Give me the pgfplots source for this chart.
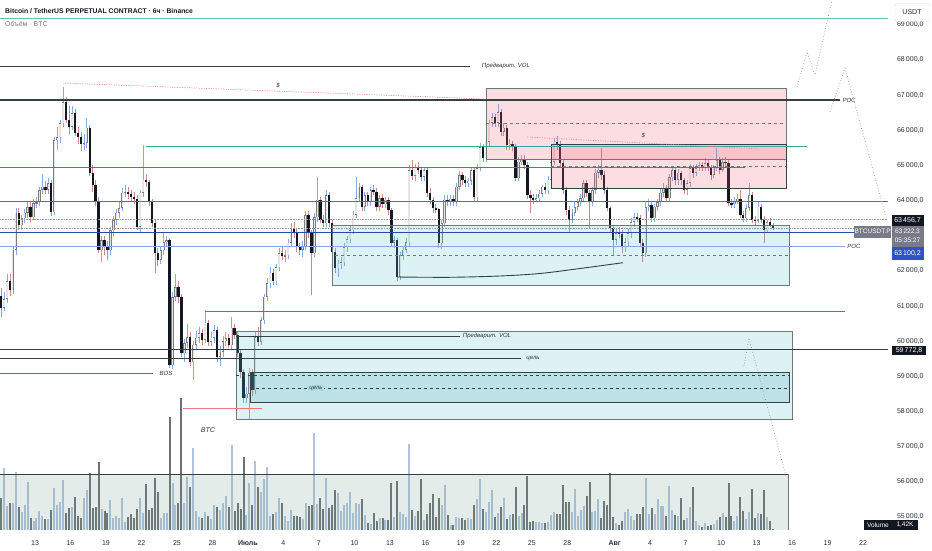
\documentclass[border=0pt]{standalone}
\usepackage{pgfplots}
\pgfplotsset{compat=1.18}
\usepackage{pgfplotstable}
\usepackage{fontspec}
\setmainfont{Liberation Sans}
\definecolor{bearbody}{RGB}{19,23,34}
\definecolor{bullfill}{RGB}{230,230,230}
\definecolor{bulledge}{RGB}{125,125,125}
\definecolor{wickbull}{RGB}{135,170,230}
\definecolor{wickbear}{RGB}{205,135,142}
\definecolor{volbull}{RGB}{178,195,222}
\definecolor{volbear}{RGB}{108,113,115}
\definecolor{darkline}{RGB}{55,65,65}
\definecolor{midline}{RGB}{100,115,112}
\definecolor{tealA}{RGB}{90,200,180}
\definecolor{tealB}{RGB}{50,170,155}
\definecolor{tealC}{RGB}{40,150,135}
\definecolor{redl}{RGB}{232,60,70}
\definecolor{bluel}{RGB}{40,75,170}
\definecolor{lblue}{RGB}{140,165,215}
\definecolor{pinkdot}{RGB}{225,130,140}
\definecolor{projc}{RGB}{150,150,150}
\definecolor{pinkbox}{RGB}{242,90,110}
\definecolor{cyanbox}{RGB}{80,190,205}
\definecolor{cyanin}{RGB}{60,160,175}
\definecolor{volpane}{RGB}{120,160,150}
\definecolor{boxborder}{RGB}{110,120,120}
\definecolor{labelc}{RGB}{50,54,62}
\definecolor{axislabel}{RGB}{40,44,52}
\definecolor{grayl}{RGB}{120,123,134}
\definecolor{bluebox}{RGB}{47,82,196}

\pgfplotstableread{
o h l c v
61300 61500 60700 60950 32
60950 61400 60850 61200 62
61200 61900 61100 61700 24
61700 61900 61300 61450 27
61450 62700 61350 62600 27
62600 63800 62450 63650 58
63650 63800 63150 63300 23
63300 63600 63150 63500 18
63500 63750 63350 63650 25
63650 64000 63500 63820 48
63820 63950 63400 63530 12
63530 64050 63450 63930 9
63930 64100 63800 63960 12
63960 64400 63850 64300 19
64300 64750 64200 64400 14
64400 64550 64200 64300 11
64300 64650 64200 64500 11
64500 64600 63550 63670 20
63670 65800 63600 65720 42
65720 66100 65450 65800 25
65800 66300 65650 66200 28
66200 67230 66100 66800 50
66800 66950 66200 66300 17
66300 66700 65900 66100 22
66100 66700 66000 66490 23
66490 66600 65850 65920 33
65920 66100 65600 65800 14
65800 65950 65400 65600 12
65600 65900 65450 65640 32
65640 66350 65500 66070 40
66070 66150 64700 64790 57
64790 65000 64250 64440 22
64440 64600 63850 63960 23
63960 64100 62500 62590 68
62590 63000 62250 62880 21
62880 63000 62450 62700 19
62700 62850 62300 62590 17
62590 63250 62450 63160 30
63160 63550 63000 63450 12
63450 63750 63300 63650 14
63650 63950 63500 63790 12
63790 64350 63700 64220 32
64220 64450 64100 64250 8
64250 64400 64050 64200 13
64200 64300 63950 64100 16
64100 64250 63900 64050 12
64050 64150 63150 63250 21
63250 64300 63100 64220 32
64220 65580 64100 64590 17
64590 64750 64400 64530 46
64530 64600 63850 63960 20
63960 64050 63250 63360 22
63360 63450 61940 62500 52
62500 62650 62150 62310 38
62310 62700 62200 62590 12
62590 63100 62450 62820 17
62820 63000 62700 62880 17
62880 62950 59250 59320 113
59320 61400 59200 61260 47
61260 61900 61150 61540 25
61540 61700 61100 61260 27
61260 61350 59550 59660 132
59660 60050 59400 59950 27
59950 60500 59800 60120 53
60120 60250 59300 59400 43
59400 60000 58900 59900 82
59900 60300 59750 60100 19
60100 60400 59950 60230 13
60230 60350 59900 60040 12
60040 60890 59950 60520 18
60520 60600 59850 59980 14
59980 60250 59850 60100 11
60100 60450 59950 60320 25
60320 60400 59400 59550 23
59550 59850 59300 59700 20
59700 60150 59550 60000 27
60000 60250 59850 60090 34
60090 60200 59800 59890 23
59890 60700 59750 60380 85
60380 60500 60050 60170 19
60170 60250 59550 59660 27
59660 59750 58950 59120 21
59120 59200 58240 58380 73
58380 58700 58250 58500 15
58500 59250 57760 59100 47
59100 59200 58450 58610 25
58610 60250 58500 60120 69
60120 60400 59850 59980 43
59980 60700 59900 60600 38
60600 61350 60500 61260 51
61260 61800 61150 61650 63
61650 62100 61500 61950 14
61950 62050 61600 61700 16
61700 62200 61600 62100 18
62100 62650 62000 62500 32
62500 62700 62300 62420 27
62420 62600 62250 62450 14
62450 62900 62350 62800 9
62800 63350 62700 63220 20
63220 63400 62950 63080 14
63080 63200 62550 62680 14
62680 62800 62450 62600 13
62600 62850 62400 62700 11
62700 63700 62600 63590 27
63590 63700 62950 63080 24
63080 63150 61310 62500 25
62500 63650 62400 63530 97
63530 64670 63400 64020 26
64020 64100 63350 63450 32
63450 63600 63250 63360 21
63360 64300 63250 64160 52
64160 64250 63250 63360 22
63360 63450 62450 62540 25
62540 62650 61950 62080 40
62080 62300 61830 62200 37
62200 62400 62050 62250 19
62250 62800 62150 62680 25
62680 63000 62550 62900 27
62900 63300 62800 63160 38
63160 63700 63050 63600 17
63600 64670 63500 64070 27
64070 64500 63950 64390 26
64390 64450 63700 63820 31
63820 64250 63700 64160 15
64160 64250 63850 63950 7
63950 64400 63850 64300 6
64300 64450 64150 64250 17
64250 64350 63700 63820 9
63820 64150 63700 64070 12
64070 64200 63800 63900 12
63900 64100 63800 64020 10
64020 64100 63600 63730 10
63730 63800 62700 62800 47
62800 63000 62650 62880 13
62880 62950 61700 61830 49
61830 62550 61750 62450 18
62450 62700 62300 62600 16
62600 62950 62500 62820 13
62820 65000 62700 64870 86
64870 65150 64600 64700 20
64700 65050 64550 64950 14
64950 65100 64750 64870 19
64870 64950 64550 64680 51
64680 64950 64550 64870 10
64870 64950 64100 64220 16
64220 64350 63900 64020 27
64020 64100 63650 63790 36
63790 63900 63650 63750 13
63750 63800 62650 62790 32
62790 63450 62620 63360 25
63360 64150 63250 64020 45
64020 64150 63850 63960 15
63960 64150 63850 64050 5
64050 64150 63850 63960 5
63960 64500 63850 64390 13
64390 64850 64300 64730 12
64730 64800 64450 64590 12
64590 64700 64400 64500 10
64500 64650 64400 64560 12
64560 64950 64450 64870 11
64870 64950 64000 64100 25
64100 65050 64000 64930 31
64930 65650 64850 65520 51
65520 65600 65100 65210 21
65210 65750 65100 65670 18
65670 66300 65550 66210 28
66210 66500 66100 66380 40
66380 66450 66100 66210 13
66210 66750 66100 66520 17
66520 66600 65850 65950 23
65950 66200 65850 66070 32
66070 66150 65450 65580 11
65580 65750 65450 65620 15
65620 65700 65400 65520 16
65520 65600 64550 64640 43
64640 65250 64550 65100 14
65100 65300 65000 65180 17
65180 65300 64900 65010 25
65010 65100 64050 64160 54
64160 64300 63660 64070 8
64070 64200 63900 64020 9
64020 64200 63950 64070 8
64070 64300 63950 64200 8
64200 64450 64100 64390 7
64390 64500 64200 64300 7
64300 64700 64200 64590 8
64590 65200 64500 65100 15
65100 65750 65000 65670 18
65670 65850 65450 65600 16
65600 65700 64950 65070 16
65070 65150 64200 64300 45
64300 64400 63600 63730 28
63730 63850 63080 63450 28
63450 63750 63350 63650 18
63650 63950 63550 63820 41
63820 64050 63700 63950 14
63950 64200 63850 64070 20
64070 64600 63950 64500 24
64500 64600 64100 64220 34
64220 64300 63220 63960 48
63960 64400 63850 64300 18
64300 64900 64200 64790 19
64790 65000 64650 64880 31
64880 65500 64600 64730 12
64730 64850 64200 64300 29
64300 64400 63700 63790 25
63790 63850 63100 63220 57
63220 63300 62450 62880 13
62880 63200 62750 63080 7
63080 63250 62950 63050 5
63050 63150 62500 62680 9
62680 62950 62550 62820 18
62820 63200 62700 63080 21
63080 63500 62950 63390 14
63390 63650 63250 63530 10
63530 63650 63400 63500 16
63500 63600 62700 62790 16
62790 62900 62250 62500 23
62500 63950 62400 63820 52
63820 64050 63700 63870 16
63870 63950 63400 63500 22
63500 63900 63400 63820 16
63820 64050 63700 63960 31
63960 64350 63850 64220 24
64220 64500 64100 64360 24
64360 64450 63950 64070 14
64070 64750 63950 64670 44
64670 64950 64550 64870 20
64870 64950 64450 64590 15
64590 64900 64450 64800 14
64800 64850 64450 64590 32
64590 64650 64200 64300 10
64300 64600 64150 64500 12
64500 65050 64400 64930 23
64930 65000 64650 64800 43
64800 65050 64700 64930 9
64930 65100 64850 65010 5
65010 65100 64850 64930 3
64930 65200 64850 65070 7
65070 65150 64850 64930 4
64930 65000 64600 64730 5
64730 65000 64650 64930 6
64930 65500 64850 65150 10
65150 65250 64750 64870 13
64870 65200 64800 65100 17
65100 65250 64950 65070 13
65070 65150 63850 63930 47
63930 64050 63800 63900 14
63900 64100 63800 63980 9
63980 64200 63900 64050 14
64050 64300 63500 63590 33
63590 63700 63400 63500 19
63500 63900 63400 63790 11
63790 64500 63700 64160 18
64160 64250 63350 63450 41
63450 63550 63300 63420 12
63420 63950 63350 63820 17
63820 63900 63350 63450 16
63450 63550 62790 63160 40
63160 63450 63100 63390 13
63390 63500 63250 63300 9
63300 63350 63150 63222 1
}\candles

\pgfplotsset{
  cbar/.style 2 args={only marks, mark=*, mark size=0pt,
    mark options={draw=none, fill=none}, forget plot,
    restrict y to domain=10000:100000,
    error bars/.cd, y dir=#1, y explicit, error mark=none,
    error bar style={#2}},
}
\tikzset{lbl/.style={font=\fontsize{6}{7}\selectfont\itshape, text=labelc, inner sep=1pt}}

\begin{document}
\begin{tikzpicture}[x=1pt,y=1pt]
\useasboundingbox (0,0) rectangle (932,550);
\begin{axis}[
  at={(0pt,20pt)}, anchor=south west,
  width=888pt, height=530pt, scale only axis,
  xmin=-2.959, xmax=72.105, ymin=54628.5, ymax=69707,
  clip=false,
  axis line style={draw=none},
  major tick length=0pt,
  tick style={draw=none},
  yticklabel pos=right,
  scaled y ticks=false,
  ytick={55000,56000,57000,58000,59000,60000,61000,62000,64000,65000,66000,67000,68000,69000},
  xtick={0,3,6,9,12,15,18,21,24,27,30,33,36,39,42,45,49,52,55,58,61,64,67,70},
  xticklabels={13,16,19,22,25,28,{\bfseries Июль},4,7,10,13,16,19,22,25,28,{\bfseries Авг},4,7,10,13,16,19,22},
  tick label style={font=\fontsize{7}{8}\selectfont, text=axislabel},
  yticklabel style={anchor=west, xshift=5.5pt,
    /pgf/number format/fixed, /pgf/number format/fixed zerofill,
    /pgf/number format/precision=1, /pgf/number format/use comma,
    /pgf/number format/1000 sep={\,}, /pgf/number format/assume math mode=true},
  xticklabel style={yshift=-7pt},
]
% ---- volume ----
\addplot[cbar={plus}{line width=2.0pt, draw=volbull}] table[x expr=\coordindex/4-2.875,
  y expr={\thisrow{c}>=\thisrow{o} ? 54628.5 : 0}, y error expr={\thisrow{v}*28.45}] {\candles};
\addplot[cbar={plus}{line width=2.0pt, draw=volbear}] table[x expr=\coordindex/4-2.875,
  y expr={\thisrow{c}<\thisrow{o} ? 54628.5 : 0}, y error expr={\thisrow{v}*28.45}] {\candles};
% ---- wicks ----
\addplot[cbar={plus}{line width=0.55pt, draw=wickbull}] table[x expr=\coordindex/4-2.875,
  y expr={\thisrow{c}>=\thisrow{o} ? \thisrow{l} : 0}, y error expr={\thisrow{h}-\thisrow{l}}] {\candles};
\addplot[cbar={plus}{line width=0.55pt, draw=wickbear}] table[x expr=\coordindex/4-2.875,
  y expr={\thisrow{c}<\thisrow{o} ? \thisrow{l} : 0}, y error expr={\thisrow{h}-\thisrow{l}}] {\candles};
% ---- bodies ----
\addplot[cbar={both}{line width=2.3pt, draw=bearbody}] table[x expr=\coordindex/4-2.875,
  y expr={\thisrow{c}<\thisrow{o} ? (\thisrow{o}+\thisrow{c})/2 : 0},
  y error expr={max(abs(\thisrow{c}-\thisrow{o})/2,14)}] {\candles};
\addplot[cbar={both}{line width=2.3pt, draw=bulledge}] table[x expr=\coordindex/4-2.875,
  y expr={\thisrow{c}>=\thisrow{o} ? (\thisrow{o}+\thisrow{c})/2 : 0},
  y error expr={max(abs(\thisrow{c}-\thisrow{o})/2,14)}] {\candles};
\addplot[cbar={both}{line width=1.3pt, draw=bullfill}] table[x expr=\coordindex/4-2.875,
  y expr={\thisrow{c}>=\thisrow{o} ? (\thisrow{o}+\thisrow{c})/2 : 0},
  y error expr={max(abs(\thisrow{c}-\thisrow{o})/2-16,0)}] {\candles};

% ---- boxes ----
\fill[volpane, fill opacity=0.2] (-2.959,56222) rectangle (63.65,54628.5);
\draw[darkline, line width=0.8pt] (-2.959,56222) -- (63.65,56222);
\draw[boxborder, line width=0.6pt] (63.65,56222) -- (63.65,54628.5);
% pink zones
\fill[pinkbox, fill opacity=0.2] (38.12,67203) rectangle (63.48,65183);
\fill[pinkbox, fill opacity=0.2] (43.62,65610) rectangle (63.48,64358);
\draw[boxborder, line width=0.6pt] (38.12,67203) rectangle (63.48,65183);
\draw[darkline, line width=0.6pt] (43.62,65610) rectangle (63.48,64358);
\draw[boxborder, dashed, line width=0.5pt] (38.12,66208) -- (63.48,66208);
\draw[boxborder, dashed, line width=0.5pt] (43.62,64984) -- (63.48,64984);
% cyan zones
\fill[cyanbox, fill opacity=0.2] (25.11,63306) rectangle (63.74,61599);
\draw[boxborder, line width=0.6pt] (25.11,63306) rectangle (63.74,61599);
\draw[boxborder, dashed, line width=0.5pt] (25.36,62452) -- (63.74,62452);
\fill[cyanbox, fill opacity=0.2] (16.99,60290) rectangle (63.99,57786);
\draw[boxborder, line width=0.6pt] (16.99,60290) rectangle (63.99,57786);
\fill[cyanin, fill opacity=0.2] (18.17,59109) rectangle (63.74,58256);
\draw[darkline, line width=0.6pt] (18.17,59109) rectangle (63.74,58256);
\draw[darkline, dashed, line width=0.5pt] (16.99,59038) -- (63.74,59038);
\draw[darkline, dashed, line width=0.5pt] (18.17,58668) -- (63.74,58668);

% ---- horizontal levels ----
\draw[tealA, line width=0.8pt] (-2.959,69195) -- (72.105,69195);
\draw[darkline, line width=0.7pt] (-2.959,67829) -- (36.77,67829);
\draw[darkline, line width=1.1pt] (-2.959,66862) -- (68.05,66862);
\draw[tealB, line width=0.8pt] (9.38,65553) -- (65.26,65553);
\draw[redl, line width=0.9pt] (-2.959,64956) -- (60.02,64956);
\draw[midline, line width=0.8pt] (-2.959,63988) -- (72.105,63988);
\draw[projc, densely dotted, line width=0.6pt] (-2.959,63456.7) -- (72.105,63456.7);
\draw[projc, densely dotted, line width=0.6pt] (-2.959,63222.3) -- (72.105,63222.3);
\draw[bluel, line width=1.1pt] (-2.959,63100.2) -- (72.105,63100.2);
\draw[lblue, line width=0.8pt] (-2.959,62708) -- (68.47,62708);
\draw[tealC, line width=0.9pt] (14.37,60859) -- (68.47,60859);
\draw[darkline, line width=0.6pt] (16.99,60148) -- (35.92,60148);
\draw[darkline, line width=0.9pt] (-2.959,59772.8) -- (72.105,59772.8);
\draw[darkline, line width=0.6pt] (-2.959,59522) -- (41.08,59522);
\draw[midline, line width=0.7pt] (-2.959,59086) -- (9.97,59086);
\draw[redl!70, line width=0.8pt] (12.51,58099) -- (19.19,58099);
% liquidity lines
\draw[pinkdot, densely dotted, line width=0.7pt] (2.40,67345) -- (38.04,66890);
\draw[pinkdot, densely dotted, line width=0.7pt] (41.59,65809) -- (61.29,65468);
% rounded bottom
\addplot[darkline, line width=0.9pt, smooth, forget plot] coordinates {
  (30.6,61826) (35.08,61818) (39.31,61855) (42.69,61926) (46.07,62068) (49.70,62233)};
% projections
\addplot[projc, dotted, line width=0.7pt, forget plot] coordinates {
  (64.41,67232) (65.26,68228) (65.93,67573) (67.37,69707)};
\addplot[projc, dotted, line width=0.7pt, forget plot] coordinates {
  (67.20,66529) (68.47,67764) (72.0,63448)};
\addplot[projc, dotted, line width=0.7pt, forget plot] coordinates {
  (59.93,59294) (60.35,60091) (63.48,56165)};

% ---- labels ----
\node[lbl] at (39.81,67829) {Предварит. VOL};
\node[lbl, anchor=south] at (20.54,67180) {\$};
\node[lbl, anchor=south] at (51.42,65760) {\$};
\node[lbl] at (68.81,66862) {POC};
\node[lbl] at (69.23,62708) {POC};
\node[lbl] at (38.21,60148) {Предварит. VOL};
\node[lbl] at (42.10,59522) {цель};
\node[lbl, fill=cyanin!30!cyanbox!45] at (23.75,58668) {цель};
\node[lbl] at (11.07,59086) {BOS};
\node[lbl, font=\fontsize{7}{8}\selectfont\itshape] at (14.62,57473) {BTC};
\end{axis}

% ---- texts outside the plot ----
\node[anchor=west, inner sep=0pt, font=\fontsize{6.8}{8}\selectfont\bfseries, text=bearbody] at (5,539) {Bitcoin / TetherUS PERPETUAL CONTRACT · 6ч · Binance};
\node[anchor=west, inner sep=0pt, font=\fontsize{7}{8}\selectfont, text=grayl] at (5,526.5) {Объём · BTC};

\tikzset{pbox/.style={text=white, font=\fontsize{7}{8}\selectfont, minimum width=32pt, minimum height=11pt, inner sep=0.6pt}}
\node[pbox, fill=bearbody, minimum height=10.7pt] at (907.5,329.7) {63\,456,7};
\node[pbox, fill=grayl, minimum width=0pt, minimum height=12pt, anchor=east, font=\fontsize{6.5}{7}\selectfont] at (891.5,318.3) {BTCUSDT.P};
\node[pbox, fill=grayl, align=center, minimum height=21pt, font=\fontsize{6.5}{9}\selectfont] at (907.5,313.8) {63\,222,3\\05:35:27};
\node[pbox, fill=bluebox, minimum height=13pt] at (907.5,296.7) {63\,100,2};
\node[pbox, fill=bearbody, minimum width=34pt, minimum height=9.5pt] at (909,199.5) {59\,772,8};
\node[draw=black!12, fill=white, text=axislabel, font=\fontsize{7}{8}\selectfont, minimum width=34pt, minimum height=18pt, rounded corners=1.5pt] at (912,537.5) {USDT};
\node[pbox, fill=bearbody, minimum width=28pt, minimum height=10pt, font=\fontsize{6.5}{7}\selectfont] at (878,25) {Volume};
\node[pbox, fill=bearbody, minimum width=26pt, minimum height=10pt, font=\fontsize{6.5}{7}\selectfont] at (905,25) {1,42K};
\end{tikzpicture}
\end{document}
